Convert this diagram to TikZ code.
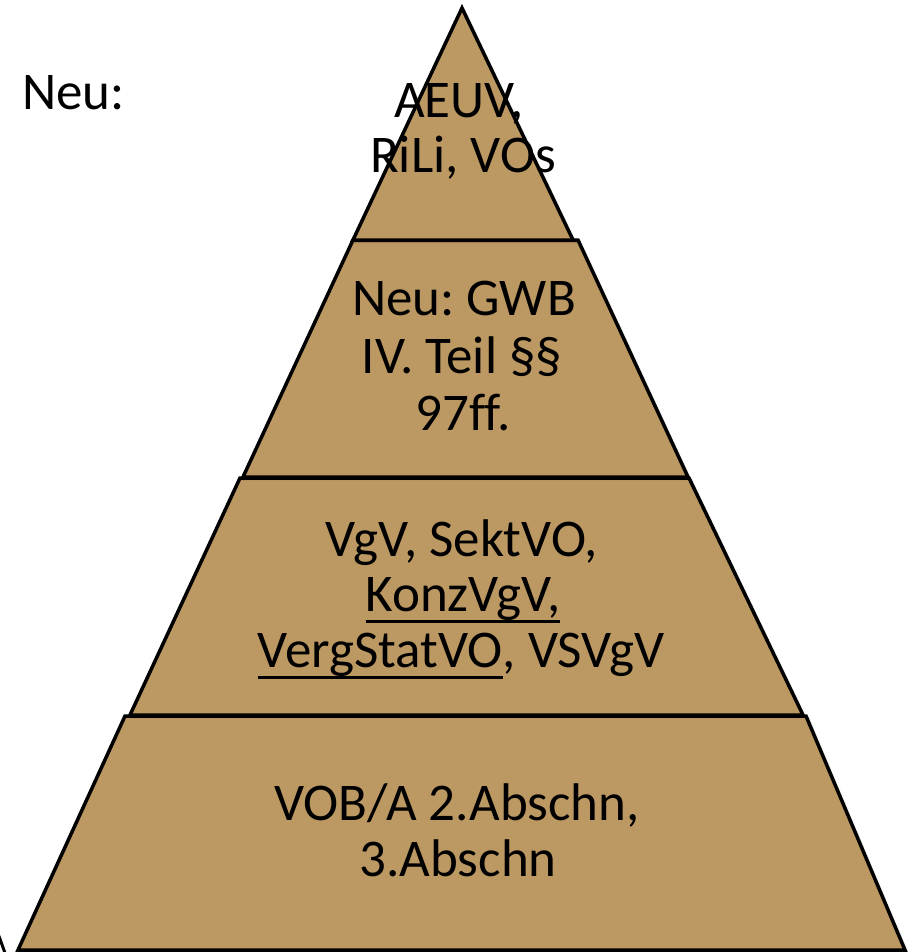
\documentclass[tikz,border=0pt]{standalone}
\usepackage{fontspec}
\setmainfont{Carlito}[Ligatures=NoCommon]
\frenchspacing
\usetikzlibrary{shadows.blur}
\definecolor{tan}{RGB}{188,152,98}
% underline drawn as a solid rule a little below the baseline
\newsavebox\ulbox
\newcommand\uline[1]{\sbox\ulbox{#1}\rlap{\rule[-11.5pt]{\wd\ulbox}{3pt}}\usebox\ulbox}
\tikzset{
  layer/.style={fill=tan, draw=black, line width=3.5pt, line join=miter,
    blur shadow={shadow xshift=2pt, shadow yshift=-2pt, shadow blur steps=6, shadow opacity=25}},
  lbl/.style={anchor=base, inner sep=0pt, font=\fontsize{53}{57}\selectfont}
}
\begin{document}
\begin{tikzpicture}[x=1pt, y=-1pt]
\useasboundingbox (0,0) rectangle (912,952);
\begin{scope}
\clip (0,0) rectangle (912,952);
% stray edge at the lower left
\draw[line width=3pt] (-4,928) -- (5,953);
% bottom layer
\path[layer] (125,716) -- (806,716) -- (905,950) -- (18,950) -- cycle;
% third layer
\path[layer] (240,478) -- (689,478) -- (803,715) -- (130,715) -- cycle;
% second layer
\path[layer] (353,240) -- (578,240) -- (688,477) -- (243,477) -- cycle;
% top triangle
\path[layer] (462,8) -- (573,240) -- (353,240) -- cycle;
\end{scope}

% side label
\node[lbl, anchor=base west] (neu) at (22,110) {Neu:};

% top
\node[lbl] (t1) at (459,118) {AEUV,};
\node[lbl] (t2) at (463,172) {RiLi, VOs};

% second
\node[lbl] (s1) at (464,315) {Neu: GWB};
\node[lbl] (s2) at (462,373) {IV. Teil §§};
\node[lbl] (s3) at (463,430) {97ff.};

% third
\node[lbl] (r1) at (462,556) {VgV, SektVO,};
\node[lbl] (r2) at (463,611) {\uline{KonzVgV,}};
\node[lbl] (r3) at (461,667) {\uline{VergStatVO}, VSVgV};

% bottom
\node[lbl] (b1) at (457,820) {VOB/A 2.Abschn,};
\node[lbl] (b2) at (458,876) {3.Abschn};
\end{tikzpicture}
\end{document}
